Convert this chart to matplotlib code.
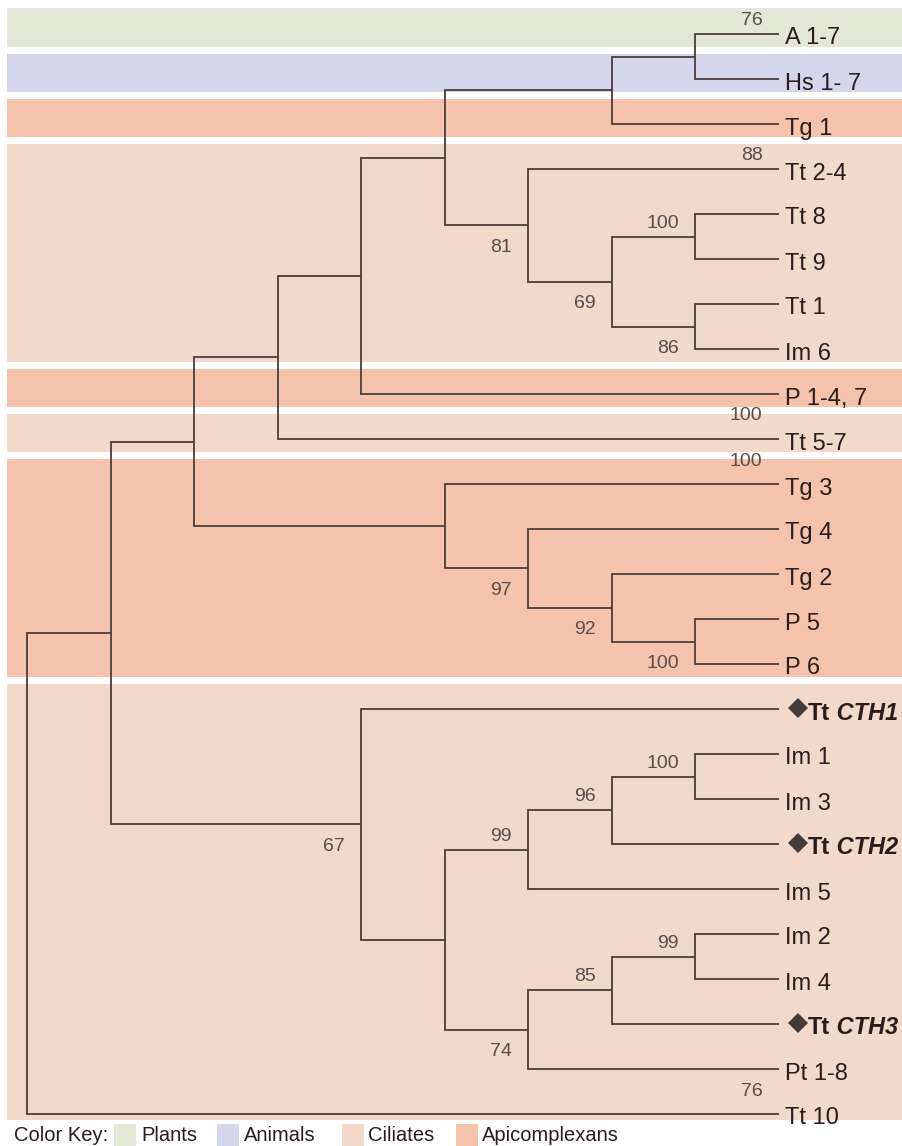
import matplotlib.pyplot as plt
from matplotlib.patches import Rectangle

# tree: (node name, x level, children); leaves are plain strings at level 9
tree = ("root", 0, [
    ("n1", 1, [
        ("n2", 2, [
            ("n3", 3, [
                ("n4", 4, [
                    ("n5", 5, [
                        ("n6", 7, [("n7", 8, ["A 1-7", "Hs 1- 7"]), "Tg 1"]),
                        ("t1", 6, ["Tt 2-4",
                                   ("t2", 7, [("t3", 8, ["Tt 8", "Tt 9"]),
                                              ("t4", 8, ["Tt 1", "Im 6"])])]),
                    ]),
                    "P 1-4, 7"]),
                "Tt 5-7"]),
            ("g1", 5, ["Tg 3",
                       ("g2", 6, ["Tg 4",
                                  ("g3", 7, ["Tg 2", ("g4", 8, ["P 5", "P 6"])])])]),
        ]),
        ("c1", 4, ["Tt CTH1",
                   ("c2", 5, [
                       ("c3", 6, [("c4", 7, [("c5", 8, ["Im 1", "Im 3"]), "Tt CTH2"]), "Im 5"]),
                       ("c6", 6, [("c7", 7, [("c8", 8, ["Im 2", "Im 4"]), "Tt CTH3"]), "Pt 1-8"]),
                   ])]),
    ]),
    "Tt 10"])
LEAF_LEVEL = 9

# group of each leaf, top to bottom
leaf_group = (["Plants", "Animals", "Apicomplexans"] + ["Ciliates"] * 5 +
              ["Apicomplexans", "Ciliates"] + ["Apicomplexans"] * 5 + ["Ciliates"] * 10)

highlight = ["Tt CTH1", "Tt CTH2", "Tt CTH3"]

boot_nodes = ["A 1-7", "Tt 2-4", "t1", "t3", "t2", "t4", "P 1-4, 7", "Tt 5-7",
              "g2", "g3", "g4", "c5", "c4", "c3", "c1", "c8", "c7", "c6", "Pt 1-8"]
boot_values = ["76", "88", "81", "100", "69", "86", "100", "100",
               "97", "92", "100", "100", "96", "99", "67", "99", "85", "74", "76"]
boot_side = ["above", "above", "below", "above", "below", "below", "below", "below",
             "below", "below", "below", "above", "above", "above", "below", "above",
             "above", "below", "below"]

group_names = ["Plants", "Animals", "Ciliates", "Apicomplexans"]
group_colors = ["#e2e8d5", "#d5d6eb", "#f3d8cc", "#f5c3ac"]
gcol = dict(zip(group_names, group_colors))

LINE = "#4a3c3a"
TXT = "#2a1c1c"
BOOT = "#5a4c4c"
FONT = ["Liberation Sans", "DejaVu Sans"]

W, H = 902, 1146
X0, DX = 27, 83.5   # px of level 0, px per level
Y0, DY = 34, 45     # px of first leaf, px per leaf


def ox(p):
    return p / DX


def oy(p):
    return p / DY


def px2x(p):
    return (p - X0) / DX


def px2y(p):
    return (p - Y0) / DY


fig = plt.figure(figsize=(W / 100, H / 100), dpi=100)
ax = fig.add_axes([0, 0, 1, 1])
ax.set_xlim(-X0 / DX, (W - X0) / DX)
ax.set_ylim((H - Y0) / DY, -Y0 / DY)
ax.axis("off")

pos = {}
leaves = []


def key(node):
    return node if isinstance(node, str) else node[0]


def layout(node):
    if isinstance(node, str):
        pos[node] = (LEAF_LEVEL, len(leaves))
        leaves.append(node)
        return
    name, level, kids = node
    for k in kids:
        layout(k)
    ys = [pos[key(k)][1] for k in kids]
    pos[name] = (level, (ys[0] + ys[-1]) / 2)
    for k in kids:
        cx, cy = pos[key(k)]
        ax.plot([level, level, cx], [pos[name][1], cy, cy], color=LINE, lw=1.3,
                solid_joinstyle="miter", solid_capstyle="butt", zorder=3)


layout(tree)

# coloured bands behind the tree
gap_c, gap_h = oy(6), oy(3.5)
start = 0
for i in range(1, len(leaf_group) + 1):
    if i == len(leaf_group) or leaf_group[i] != leaf_group[start]:
        top = start - oy(26) if start == 0 else start - 0.5 - gap_c + gap_h
        bot = i - 1 + oy(6) if i == len(leaf_group) else i - 0.5 - gap_c - gap_h
        ax.add_patch(Rectangle((ox(7 - X0), top), ox(W - 7), bot - top,
                               facecolor=gcol[leaf_group[start]], edgecolor="none", zorder=1))
        start = i

# leaf labels
for name in leaves:
    lx, ly = pos[name]
    if name in highlight:
        ax.plot(lx + ox(19), ly - oy(1), marker="D", ms=10.5, color="#453a3a",
                markeredgewidth=0, zorder=4)
        a, b = name.split(" ")
        t = ax.text(lx + ox(29), ly + oy(10.5), a, fontsize=17, fontweight="bold",
                    color=TXT, family=FONT, va="baseline", ha="left", zorder=4)
        ax.annotate(" " + b, xy=(1, 0), xycoords=t, va="bottom", ha="left",
                    fontsize=17, fontweight="bold", fontstyle="italic",
                    color=TXT, family=FONT, zorder=4)
    else:
        ax.text(lx + ox(7), ly + oy(10.5), name, fontsize=17, color=TXT, family=FONT,
                va="baseline", ha="left", zorder=4)

# bootstrap values
for n, v, s in zip(boot_nodes, boot_values, boot_side):
    bx, by = pos[n]
    dy = -9 if s == "above" else 26.5
    ax.text(bx - ox(16), by + oy(dy), v, fontsize=14, color=BOOT, family=FONT,
            ha="right", va="baseline", zorder=4)

# colour key
key_sq_x = [114, 217, 342, 456]
key_tx_x = [141, 244, 368, 482]

ax.text(px2x(14), px2y(1141), "Color Key:", fontsize=14.5, color=TXT, family=FONT,
        va="baseline", ha="left")
for g, sx, tx in zip(group_names, key_sq_x, key_tx_x):
    ax.add_patch(Rectangle((px2x(sx), px2y(1124)), ox(22), oy(24), facecolor=gcol[g],
                           edgecolor="none", clip_on=False))
    ax.text(px2x(tx), px2y(1141), g, fontsize=14.5, color=TXT, family=FONT,
            va="baseline", ha="left")

fig.savefig("out.png", dpi=100, facecolor="white")
